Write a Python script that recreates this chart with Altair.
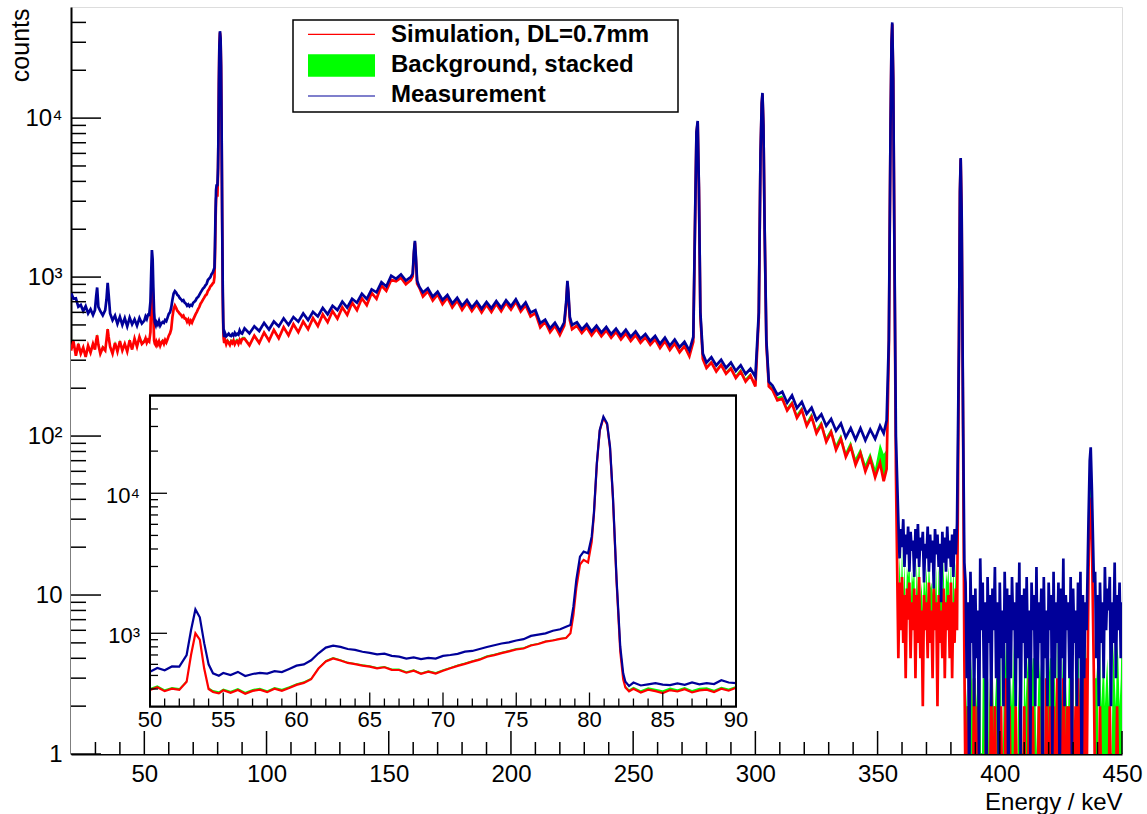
import altair as alt
import pandas as pd

# ---------------- data ----------------
# segment 1: 20-50 keV
E1 = [20, 21, 22, 23, 24, 25, 26, 27, 28, 29,
      29.8, 30.3, 30.7, 31.2, 32, 33, 34, 34.5, 35.0, 35.4,
      36, 37, 38, 39, 40, 41, 42, 43, 44, 45,
      46, 47, 48, 49]
MEAS1 = [800, 730, 735, 650, 668, 612, 655, 590, 628, 578,
         620, 760, 860, 650, 610, 575, 620, 720, 920, 780,
         590, 535, 572, 508, 562, 500, 552, 490, 556, 505,
         542, 495, 552, 510]
SIM1 = [345, 395, 320, 380, 330, 360, 315, 370, 335, 380,
        350, 400, 430, 375, 330, 360, 345, 400, 470, 420,
        365, 330, 385, 340, 395, 345, 380, 340, 400, 350,
        410, 365, 420, 380]
BKG1 = [12, 13, 12, 11, 12, 13, 12, 12, 11, 12,
        12, 13, 12, 12, 11, 12, 13, 12, 12, 13,
        12, 11, 12, 13, 12, 12, 11, 12, 13, 12,
        12, 11, 12, 13]

# segment 2: 50-90 keV (also shown in the inset)
E2 = [50, 50.5, 51, 51.5, 52, 52.5, 52.8, 53.1, 53.4, 53.7,
      54, 54.3, 54.7, 55, 55.5, 56, 56.5, 57, 57.5, 58,
      58.5, 59, 59.5, 60, 60.5, 61, 61.5, 62, 62.5, 63,
      63.5, 64, 64.5, 65, 65.5, 66, 66.5, 67, 67.5, 68,
      68.5, 69, 69.5, 70, 70.5, 71, 71.5, 72, 72.5, 73,
      73.5, 74, 74.5, 75, 75.5, 76, 76.5, 77, 77.5, 78,
      78.4, 78.7, 78.9, 79.1, 79.35, 79.6, 79.9, 80.15, 80.3, 80.5,
      80.7, 80.95, 81.2, 81.4, 81.6, 81.85, 82.1, 82.3, 82.45, 82.7,
      83, 83.5, 84, 84.5, 85, 85.5, 86, 86.5, 87, 87.5,
      88, 88.5, 89, 89.5, 90]
MEAS2 = [532, 565, 545, 580, 578, 700, 1050, 1480, 1300, 850,
         600, 518, 498, 520, 503, 530, 495, 512, 522, 515,
         537, 528, 556, 587, 600, 642, 720, 790, 817, 800,
         772, 762, 738, 725, 708, 716, 690, 681, 660, 673,
         655, 668, 660, 690, 700, 713, 740, 748, 772, 798,
         822, 846, 862, 888, 908, 958, 978, 998, 1042, 1068,
         1114, 1146, 1549, 2404, 3525, 3828, 3727, 4898, 7194, 16380,
         28300, 35200, 31600, 21500, 9460, 2404, 802, 518, 451, 420,
         445, 424, 432, 441, 430, 426, 438, 428, 446, 432,
         440, 434, 462, 445, 441]
SIM2 = [394, 412, 386, 402, 394, 450, 700, 1000, 900, 560,
        400, 381, 372, 392, 376, 394, 370, 388, 396, 380,
        402, 388, 406, 428, 442, 470, 560, 630, 662, 640,
        614, 602, 588, 578, 562, 572, 548, 547, 523, 540,
        513, 532, 516, 540, 562, 585, 605, 628, 648, 680,
        698, 722, 743, 766, 778, 818, 838, 872, 888, 912,
        925, 1000, 1350, 2100, 3100, 3343, 3200, 4500, 7000, 16000,
        28000, 34500, 31000, 21000, 9200, 2300, 740, 470, 410, 385,
        402, 378, 396, 386, 374, 393, 384, 399, 378, 391,
        396, 381, 402, 389, 408]
BKG2 = [12, 13, 12, 12, 13, 12, 13, 14, 13, 12,
        12, 12, 13, 12, 12, 13, 12, 12, 13, 12,
        12, 13, 12, 12, 13, 12, 13, 14, 14, 13,
        13, 12, 13, 12, 13, 12, 12, 13, 12, 13,
        12, 13, 12, 14, 13, 14, 13, 14, 15, 16,
        15, 16, 18, 20, 18, 16, 15, 16, 15, 15,
        15, 16, 18, 25, 30, 32, 30, 35, 45, 80,
        120, 140, 125, 90, 45, 20, 15, 14, 13, 13,
        13, 14, 15, 16, 18, 17, 15, 14, 16, 17,
        15, 14, 13, 14, 13]

# segment 3: 90-358 keV
E3 = [91, 93, 95, 97, 99, 101, 103, 105, 107, 109,
      111, 113, 115, 117, 119, 121, 123, 125, 127, 129,
      131, 133, 135, 137, 139, 141, 143, 145, 147, 149,
      151, 153, 155, 157, 159, 159.8, 160.3, 160.7, 161.1, 161.6,
      162.5, 164, 166, 168, 170, 172, 174, 176, 178, 180,
      182, 184, 186, 188, 190, 192, 194, 196, 198, 200,
      202, 204, 206, 208, 210, 212, 214, 216, 218, 220,
      221.8, 222.6, 223.1, 223.5, 224.1, 225, 227, 229, 231, 233,
      235, 237, 239, 241, 243, 245, 247, 249, 251, 253,
      255, 257, 259, 261, 263, 265, 267, 269, 271, 273,
      274.6, 275.4, 275.9, 276.4, 276.9, 277.5, 278.5, 280, 282, 284,
      286, 288, 290, 292, 294, 296, 298, 300, 301.4, 302.1,
      302.6, 302.9, 303.3, 303.8, 304.5, 305.5, 307, 309, 311, 313,
      315, 317, 319, 321, 323, 325, 327, 329, 331, 333,
      335, 337, 339, 341, 343, 345, 347, 349, 351, 352.5,
      353.7, 354.6, 355.3, 355.7, 356.0, 356.4, 356.9, 357.5]
MEAS3 = [476, 442, 490, 458, 515, 468, 526, 490, 550, 500,
         560, 524, 590, 536, 604, 566, 640, 584, 660, 620,
         700, 642, 730, 690, 786, 728, 836, 802, 930, 872,
         1020, 975, 1040, 950, 1000, 1050, 1450, 1690, 1350, 950,
         870, 800, 850, 752, 808, 718, 772, 682, 740, 660,
         718, 642, 702, 632, 698, 636, 706, 640, 714, 655,
         724, 636, 693, 598, 620, 513, 540, 475, 515, 458,
         520, 700, 948, 800, 560, 500, 520, 468, 505, 455,
         494, 448, 485, 437, 474, 428, 466, 420, 455, 410,
         438, 396, 426, 380, 416, 370, 405, 362, 392, 345,
         420, 2700, 8200, 9600, 3700, 600, 330, 290, 313, 278,
         302, 268, 290, 257, 279, 246, 265, 236, 600, 6000,
         12500, 14400, 9000, 2000, 400, 220, 208, 182, 190, 162,
         180, 150, 164, 138, 151, 126, 137, 116, 128, 108,
         120, 98, 112, 95, 112, 94, 110, 96, 116, 104,
         125, 400, 9000, 30000, 40000, 18000, 1500, 100]
SIM3 = [410, 372, 428, 385, 448, 398, 465, 412, 484, 430,
        505, 450, 525, 470, 552, 492, 582, 520, 612, 548,
        645, 578, 690, 620, 735, 665, 795, 730, 885, 820,
        960, 940, 990, 900, 955, 1010, 1400, 1650, 1300, 910,
        860, 755, 815, 712, 778, 676, 742, 645, 710, 622,
        690, 612, 675, 600, 670, 604, 680, 610, 690, 624,
        700, 608, 665, 565, 595, 482, 522, 450, 495, 432,
        495, 670, 920, 770, 535, 470, 495, 445, 482, 430,
        472, 425, 462, 415, 452, 405, 442, 396, 432, 386,
        418, 375, 406, 358, 395, 348, 382, 336, 368, 318,
        392, 2600, 8000, 9400, 3600, 570, 305, 268, 290, 255,
        280, 247, 266, 232, 254, 220, 240, 205, 560, 5800,
        12200, 14100, 8800, 1950, 380, 205, 195, 168, 172, 145,
        160, 130, 146, 116, 132, 104, 118, 92, 106, 82,
        96, 74, 86, 66, 78, 60, 72, 55, 68, 52,
        62, 350, 8800, 29500, 39000, 17500, 1400, 60]
BKG3 = [11, 12, 11, 12, 11, 12, 11, 12, 11, 12,
        11, 12, 11, 12, 11, 12, 12, 11, 12, 12,
        11, 12, 12, 11, 12, 12, 13, 12, 13, 12,
        12, 13, 12, 13, 12, 13, 14, 15, 13, 12,
        12, 11, 12, 11, 12, 11, 11, 12, 11, 11,
        11, 12, 13, 12, 11, 11, 12, 11, 11, 12,
        11, 11, 10, 11, 10, 11, 10, 10, 11, 10,
        10, 11, 12, 11, 10, 10, 10, 11, 10, 10,
        10, 11, 12, 13, 11, 10, 10, 9, 10, 10,
        9, 10, 9, 10, 9, 9, 10, 9, 9, 9,
        9, 10, 12, 12, 10, 9, 9, 9, 8, 9,
        8, 9, 9, 10, 12, 11, 9, 8, 9, 10,
        11, 12, 10, 9, 8, 8, 8, 8, 8, 7,
        7, 8, 7, 7, 8, 7, 7, 7, 6, 7,
        7, 6, 7, 7, 6, 7, 7, 8, 22, 25,
        20, 10, 10, 12, 14, 10, 8, 6]

# segment 4a: 358-383 keV
E4A = [358.5, 359, 359.5, 360, 360.5, 361, 361.5, 362, 362.5, 363,
       363.5, 364, 364.5, 365, 365.5, 366, 366.5, 367, 367.5, 368,
       368.5, 369, 369.5, 370, 370.5, 371, 371.5, 372, 372.5, 373,
       373.5, 374, 374.5, 375, 375.5, 376, 376.5, 377, 377.5, 378,
       378.5, 379, 379.5, 380, 380.5, 381, 381.5, 382, 382.5]
MEAS4A = [29, 17, 26, 20, 30, 15, 24, 18, 27, 14,
          25, 19, 22, 13, 26, 17, 28, 15, 23, 19,
          25, 12, 21, 17, 27, 14, 24, 16, 22, 11,
          26, 18, 24, 15, 21, 9, 25, 16, 23, 14,
          27, 17, 22, 15, 24, 13, 26, 18, 28]
SIM4A = [4, 12, 6, 13, 5, 10, 3, 11, 7, 12,
         4, 9, 6, 11, 3, 10, 5, 13, 4, 8,
         2, 10, 6, 9, 4, 12, 5, 8, 3, 11,
         6, 9, 2, 10, 5, 8, 4, 11, 3, 9,
         6, 10, 4, 12, 3, 9, 5, 11, 6]
BKG4A = [5, 6, 4, 7, 5, 6, 5, 4, 6, 7,
         4, 5, 6, 5, 4, 6, 5, 7, 5, 4,
         6, 5, 4, 6, 5, 5, 6, 4, 7, 5,
         4, 6, 5, 5, 6, 4, 5, 6, 4, 5,
         6, 5, 4, 6, 5, 7, 4, 5, 6]

# segment 4b: the 384 keV line
E4B = [383.3, 383.7, 384.0, 384.4, 385.0, 385.5]
MEAS4B = [400, 3500, 5600, 2500, 120, 16]
SIM4B = [380, 3400, 5500, 2450, 100, 4]
BKG4B = [5, 5, 5, 5, 4, 3]

# segment 4c: 386-436 keV
E4C = [386, 386.5, 387, 387.5, 388, 388.5, 389, 389.5, 390, 390.5,
       391, 391.5, 392, 392.5, 393, 393.5, 394, 394.5, 395, 395.5,
       396, 396.5, 397, 397.5, 398, 398.5, 399, 399.5, 400, 400.5,
       401, 401.5, 402, 402.5, 403, 403.5, 404, 404.5, 405, 405.5,
       406, 406.5, 407, 407.5, 408, 408.5, 409, 409.5, 410, 410.5,
       411, 411.5, 412, 412.5, 413, 413.5, 414, 414.5, 415, 415.5,
       416, 416.5, 417, 417.5, 418, 418.5, 419, 419.5, 420, 420.5,
       421, 421.5, 422, 422.5, 423, 423.5, 424, 424.5, 425, 425.5,
       426, 426.5, 427, 427.5, 428, 428.5, 429, 429.5, 430, 430.5,
       431, 431.5, 432, 432.5, 433, 433.5, 434, 434.5, 435, 435.5]
MEAS4C = [12, 3, 9, 0, 14, 5, 10, 2, 11, 4,
          8, 1, 17, 6, 12, 3, 9, 0, 13, 5,
          10, 2, 11, 6, 15, 3, 9, 1, 12, 4,
          8, 2, 14, 5, 11, 0, 10, 3, 13, 6,
          9, 2, 12, 4, 16, 1, 10, 5, 11, 3,
          13, 4, 8, 1, 12, 6, 10, 2, 15, 3,
          9, 5, 11, 0, 13, 4, 8, 2, 12, 6,
          10, 1, 14, 3, 9, 5, 12, 0, 11, 4,
          17, 2, 10, 6, 9, 3, 13, 1, 11, 5,
          8, 2, 12, 4, 14, 0, 10, 3, 9, 6]
SIM4C = [0, 0, 2, 0, 0, 1, 0, 3, 0, 0,
         2, 0, 0, 0, 1, 0, 0, 2, 0, 0,
         0, 3, 0, 0, 2, 0, 1, 0, 0, 2,
         0, 0, 0, 3, 0, 0, 2, 0, 0, 1,
         0, 2, 0, 0, 0, 1, 0, 0, 2, 0,
         0, 0, 3, 0, 0, 2, 0, 0, 1, 0,
         2, 0, 0, 1, 0, 0, 3, 0, 0, 2,
         0, 0, 2, 0, 0, 3, 0, 2, 0, 0,
         3, 0, 0, 2, 0, 2, 0, 3, 0, 0,
         2, 0, 3, 0, 2, 0, 0, 2, 4, 0]
BKG4C = [3, 2, 0, 4, 2, 3, 2, 0, 3, 2,
         4, 2, 3, 0, 2, 3, 4, 2, 0, 3,
         2, 3, 4, 2, 0, 3, 2, 4, 2, 3,
         0, 2, 3, 2, 4, 2, 0, 3, 2, 4,
         2, 3, 0, 2, 3, 4, 2, 0, 3, 2,
         3, 4, 2, 0, 3, 2, 4, 3, 0, 2,
         2, 3, 4, 2, 3, 0, 2, 4, 3, 2,
         4, 0, 2, 3, 2, 4, 0, 3, 2, 3,
         2, 4, 3, 0, 2, 3, 4, 2, 3, 0,
         3, 2, 4, 3, 0, 2, 3, 4, 2, 3]

# segment 4d: the 437 keV line
E4D = [436.3, 436.8, 437.2, 437.7, 438.5]
MEAS4D = [30, 70, 85, 45, 12]
SIM4D = [14, 35, 41, 22, 3]
BKG4D = [10, 25, 28, 15, 3]

# segment 4e: 439-450 keV
E4E = [439, 439.5, 440, 440.5, 441, 441.5, 442, 442.5, 443, 443.5,
       444, 444.5, 445, 445.5, 446, 446.5, 447, 447.5, 448, 448.5,
       449, 449.5, 450]
MEAS4E = [14, 4, 10, 2, 12, 5, 9, 3, 15, 6,
          11, 8, 13, 2, 9, 5, 16, 3, 10, 6,
          12, 4, 9]
SIM4E = [0, 1, 0, 0, 2, 0, 0, 1, 0, 0,
         0, 0, 2, 0, 0, 1, 0, 0, 2, 0,
         0, 0, 0]
BKG4E = [3, 2, 4, 0, 3, 2, 3, 4, 2, 3,
         4, 2, 3, 0, 2, 4, 3, 2, 3, 4,
         2, 3, 9]

# axis ticks and labels
X_MAJOR = [50, 100, 150, 200, 250, 300, 350, 400, 450]
X_MINOR = [30, 40, 60, 70, 80, 90, 110, 120, 130, 140, 160, 170, 180, 190,
           210, 220, 230, 240, 260, 270, 280, 290, 310, 320, 330, 340,
           360, 370, 380, 390, 410, 420, 430, 440]
Y_MAJOR = [1, 10, 100, 1000, 10000]
Y_LABELS = ["1", "10", "10\u00b2", "10\u00b3", "10\u2074"]
Y_MINOR = [m * d for d in (1, 10, 100, 1000) for m in range(2, 10)] + [20000, 30000, 40000]
IX_MAJOR = [50, 55, 60, 65, 70, 75, 80, 85, 90]
IX_MINOR = [v for v in range(51, 90) if v % 5 != 0]
IY_MAJOR = [1000, 10000]
IY_LABELS = ["10\u00b3", "10\u2074"]
IY_MINOR = [400, 500, 600, 700, 800, 900, 2000, 3000, 4000, 5000, 6000, 7000,
            8000, 9000, 20000, 30000, 40000]
LEGEND_LABELS = ["Simulation, DL=0.7mm", "Background, stacked", "Measurement"]

# ---------------- build table ----------------
ENERGY = E1 + E2 + E3 + E4A + E4B + E4C + E4D + E4E
MEAS = MEAS1 + MEAS2 + MEAS3 + MEAS4A + MEAS4B + MEAS4C + MEAS4D + MEAS4E
SIM = SIM1 + SIM2 + SIM3 + SIM4A + SIM4B + SIM4C + SIM4D + SIM4E
BKG = BKG1 + BKG2 + BKG3 + BKG4A + BKG4B + BKG4C + BKG4D + BKG4E
for nm, arr in (("MEAS", MEAS), ("SIM", SIM), ("BKG", BKG)):
    assert len(arr) == len(ENERGY), (nm, len(arr), len(ENERGY))

df = pd.DataFrame({"E": ENERGY, "meas": MEAS, "sim": SIM, "bkg": BKG})
df["tot"] = df["sim"] + df["bkg"]          # background stacked on simulation
FLOOR = 0.5                                  # empty bins drop below the log axis
for c in ("meas", "sim", "tot"):
    df[c + "_p"] = df[c].clip(lower=FLOOR)
df["floor"] = FLOOR
dfi = df[(df["E"] >= 50) & (df["E"] <= 90)].reset_index(drop=True)
dfi = dfi.assign(floor=300)

# ---------------- styling / layout ----------------
FONT = "Liberation Sans"
RED, GREEN, BLUE = "#ff0000", "#00ff00", "#000099"
W, H = 1051, 747
IX0, IX1, IYB, IYT = 79, 665, 699.5, 388.4   # inset rectangle inside plot area

label_expr = " : ".join(f"datum.value == {v} ? '{t}'" for v, t in zip(Y_MAJOR, Y_LABELS)) + " : ''"

xs = alt.Scale(domain=[20, 450], nice=False, zero=False)
ys = alt.Scale(type="log", domain=[1, 50000], nice=False)
x_axis = alt.Axis(values=X_MAJOR, format="d", title="Energy / keV", grid=False,
                  ticks=False, tickSize=0, labelPadding=8, labelFontSize=24,
                  labelFont=FONT, labelColor="black", labelFlush=False,
                  labelOverlap=False, domainColor="black", domainWidth=2,
                  titleFont=FONT, titleFontSize=24, titleFontWeight="normal",
                  titleColor="black", titleAnchor="end", titleAlign="right",
                  titleBaseline="alphabetic", titleX=W, titleY=55)
y_axis = alt.Axis(values=Y_MAJOR, labelExpr=label_expr, title="counts", grid=False,
                  ticks=False, tickSize=0, labelPadding=9, labelFontSize=24,
                  labelFont=FONT, labelColor="black", labelFlush=False,
                  labelOverlap=False, domainColor="black", domainWidth=2,
                  titleFont=FONT, titleFontSize=25, titleFontWeight="normal",
                  titleColor="black", titleAngle=270, titleAlign="right",
                  titleBaseline="alphabetic", titleX=-43, titleY=1)


def MX(f):
    return alt.X(f + ":Q", scale=xs, axis=x_axis)


def MY(f):
    return alt.Y(f + ":Q", scale=ys, axis=y_axis)


base = alt.Chart(df)
green = base.mark_area(color=GREEN, clip=True, orient="vertical").encode(
    x=MX("E"), y=MY("tot_p"), y2="floor:Q")
white = base.mark_area(color="white", clip=True, orient="vertical").encode(
    x=MX("E"), y=MY("sim_p"), y2="floor:Q")
red = base.mark_line(color=RED, strokeWidth=2.7, clip=True).encode(x=MX("E"), y=MY("sim_p"))
blue = base.mark_line(color=BLUE, strokeWidth=2.7, clip=True).encode(x=MX("E"), y=MY("meas_p"))

xt_major = alt.Chart(pd.DataFrame({"v": X_MAJOR})).mark_rule(color="black", strokeWidth=1.5).encode(
    x=MX("v"), y=alt.value(H), y2=alt.value(H - 23))
xt_minor = alt.Chart(pd.DataFrame({"v": X_MINOR})).mark_rule(color="black", strokeWidth=1.5).encode(
    x=MX("v"), y=alt.value(H), y2=alt.value(H - 12))
yt_major = alt.Chart(pd.DataFrame({"v": Y_MAJOR})).mark_rule(color="black", strokeWidth=1.5).encode(
    y=MY("v"), x=alt.value(0), x2=alt.value(30))
yt_minor = alt.Chart(pd.DataFrame({"v": Y_MINOR})).mark_rule(color="black", strokeWidth=1.5).encode(
    y=MY("v"), x=alt.value(0), x2=alt.value(15))

one = pd.DataFrame({"k": [0]})
leg_box = alt.Chart(one).mark_rect(fill="white", stroke="black", strokeWidth=1.5).encode(
    x=alt.value(222), x2=alt.value(607), y=alt.value(13), y2=alt.value(105))
leg_red = alt.Chart(one).mark_rule(color=RED, strokeWidth=1.2).encode(
    x=alt.value(237), x2=alt.value(304), y=alt.value(27.3))
leg_green = alt.Chart(one).mark_rect(color=GREEN).encode(
    x=alt.value(237), x2=alt.value(304), y=alt.value(47.3), y2=alt.value(69.7))
leg_blue = alt.Chart(one).mark_rule(color=BLUE, strokeWidth=1.2).encode(
    x=alt.value(237), x2=alt.value(304), y=alt.value(89))
leg_texts = []
for i, lab in enumerate(LEGEND_LABELS):
    leg_texts.append(
        alt.Chart(pd.DataFrame({"label": [lab]})).mark_text(
            align="left", baseline="middle", font=FONT, fontSize=24,
            fontWeight="bold", color="black").encode(
            text="label:N", x=alt.value(320), y=alt.value(27.5 + 30.3 * i)))

main = alt.layer(green, white, red, blue, xt_major, xt_minor, yt_major, yt_minor,
                 leg_box, leg_red, leg_green, leg_blue, *leg_texts)

# ---------------- inset ----------------
xsi = alt.Scale(domain=[50, 90], range=[IX0, IX1], nice=False, zero=False)
ysi = alt.Scale(type="log", domain=[300, 50000], range=[IYB, IYT], nice=False)


def IX(f):
    return alt.X(f + ":Q", scale=xsi, axis=None)


def IY(f):
    return alt.Y(f + ":Q", scale=ysi, axis=None)


ibase = alt.Chart(dfi)
ibg = alt.Chart(one).mark_rect(fill="white", stroke="black", strokeWidth=2).encode(
    x=alt.value(IX0), x2=alt.value(IX1), y=alt.value(IYT), y2=alt.value(IYB))
igreen = ibase.mark_area(color=GREEN, orient="vertical").encode(
    x=IX("E"), y=IY("tot_p"), y2="floor:Q")
iwhite = ibase.mark_area(color="white", orient="vertical").encode(
    x=IX("E"), y=IY("sim_p"), y2="floor:Q")
ired = ibase.mark_line(color=RED, strokeWidth=2.2).encode(x=IX("E"), y=IY("sim_p"))
iblue = ibase.mark_line(color=BLUE, strokeWidth=2.2).encode(x=IX("E"), y=IY("meas_p"))
iframe = alt.Chart(one).mark_rect(fill="transparent", stroke="black", strokeWidth=2).encode(
    x=alt.value(IX0), x2=alt.value(IX1), y=alt.value(IYT), y2=alt.value(IYB))

ixt_major = alt.Chart(pd.DataFrame({"v": IX_MAJOR})).mark_rule(color="black", strokeWidth=1.3).encode(
    x=IX("v"), y=alt.value(IYB), y2=alt.value(IYB - 14))
ixt_minor = alt.Chart(pd.DataFrame({"v": IX_MINOR})).mark_rule(color="black", strokeWidth=1.3).encode(
    x=IX("v"), y=alt.value(IYB), y2=alt.value(IYB - 8))
iyt_major = alt.Chart(pd.DataFrame({"v": IY_MAJOR})).mark_rule(color="black", strokeWidth=1.3).encode(
    y=IY("v"), x=alt.value(IX0), x2=alt.value(IX0 + 17))
iyt_minor = alt.Chart(pd.DataFrame({"v": IY_MINOR})).mark_rule(color="black", strokeWidth=1.3).encode(
    y=IY("v"), x=alt.value(IX0), x2=alt.value(IX0 + 8))
ix_lab = alt.Chart(pd.DataFrame({"v": IX_MAJOR})).mark_text(
    align="center", baseline="top", font=FONT, fontSize=22, color="black").encode(
    x=IX("v"), y=alt.value(IYB + 3), text=alt.Text("v:Q", format="d"))
iy_lab = alt.Chart(pd.DataFrame({"v": IY_MAJOR, "t": IY_LABELS})).mark_text(
    align="right", baseline="middle", font=FONT, fontSize=22, color="black", dy=3).encode(
    y=IY("v"), x=alt.value(IX0 - 10), text="t:N")

inset = alt.layer(ibg, igreen, iwhite, ired, iblue, ixt_major, ixt_minor,
                  iyt_major, iyt_minor, iframe, ix_lab, iy_lab)

chart = alt.layer(main, inset).resolve_scale(x="independent", y="independent").properties(
    width=W, height=H,
    autosize=alt.AutoSizeParams(type="none"),
    padding={"left": 71, "top": 7, "right": 25, "bottom": 60},
    background="white",
).configure_view(stroke="black", strokeWidth=2).configure(font=FONT)

chart.save("out.html", embed_options={"renderer": "svg", "actions": False})
